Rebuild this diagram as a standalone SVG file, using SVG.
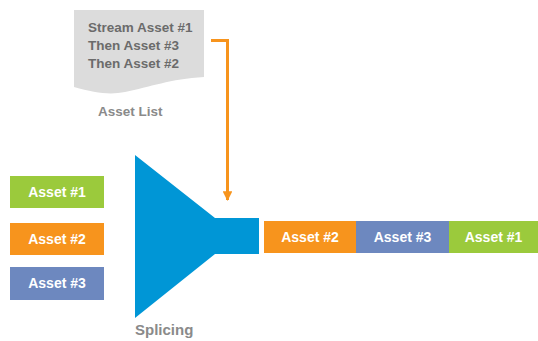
<svg xmlns="http://www.w3.org/2000/svg" width="538" height="341" viewBox="0 0 538 341">
<style>
.box-t{font-family:"Liberation Sans",Arial,sans-serif;font-weight:bold;font-size:14px;fill:#fff;text-anchor:middle}
.lbl{font-family:"Liberation Sans",Arial,sans-serif;font-weight:bold;fill:#8a8a8a}
.doc-t{font-family:"Liberation Sans",Arial,sans-serif;font-weight:bold;font-size:13.5px;fill:#6b6b6b}
.green{fill:#9bca3c}.orange{fill:#f7941d}.blue{fill:#6d88bf}
</style>
<defs>
<marker id="arr" viewBox="0 0 10 10" refX="9" refY="5" markerWidth="3.4" markerHeight="3.2" orient="auto" markerUnits="strokeWidth">
<path d="M0,0 L10,5 L0,10 z" fill="#f7941d"/>
</marker>
</defs>
<g id="asset-list">
<path d="M74,10 H204 V77 C170,79 150,87 125,92 C110,95 95,93 74,87 Z" fill="#dcdcdc"/>
<text class="doc-t" x="88" y="32">Stream Asset #1</text>
<text class="doc-t" x="88" y="50">Then Asset #3</text>
<text class="doc-t" x="88" y="68">Then Asset #2</text>
<text class="lbl" x="98" y="116" font-size="13.5">Asset List</text>
</g>
<g id="connectors">
<path d="M211,40.5 H227.5 V200" fill="none" stroke="#f7941d" stroke-width="3" marker-end="url(#arr)"/>
</g>
<g id="splicer">
<path d="M135,155 L215,218 H259 V254 H215 L135,318 Z" fill="#0096d6"/>
<text class="lbl" x="135" y="335" font-size="15">Splicing</text>
</g>
<g id="in-asset1"><rect class="green" x="10" y="176" width="94" height="32"/><text class="box-t" x="57" y="197">Asset #1</text></g>
<g id="in-asset2"><rect class="orange" x="10" y="223" width="94" height="32"/><text class="box-t" x="57" y="244">Asset #2</text></g>
<g id="in-asset3"><rect class="blue" x="10" y="267" width="94" height="33"/><text class="box-t" x="57" y="288">Asset #3</text></g>
<g id="out-asset2"><rect class="orange" x="264" y="221" width="92" height="32"/><text class="box-t" x="310" y="242">Asset #2</text></g>
<g id="out-asset3"><rect class="blue" x="356" y="221" width="93" height="32"/><text class="box-t" x="402.5" y="242">Asset #3</text></g>
<g id="out-asset1"><rect class="green" x="449" y="221" width="89" height="32"/><text class="box-t" x="493.5" y="242">Asset #1</text></g>
</svg>
